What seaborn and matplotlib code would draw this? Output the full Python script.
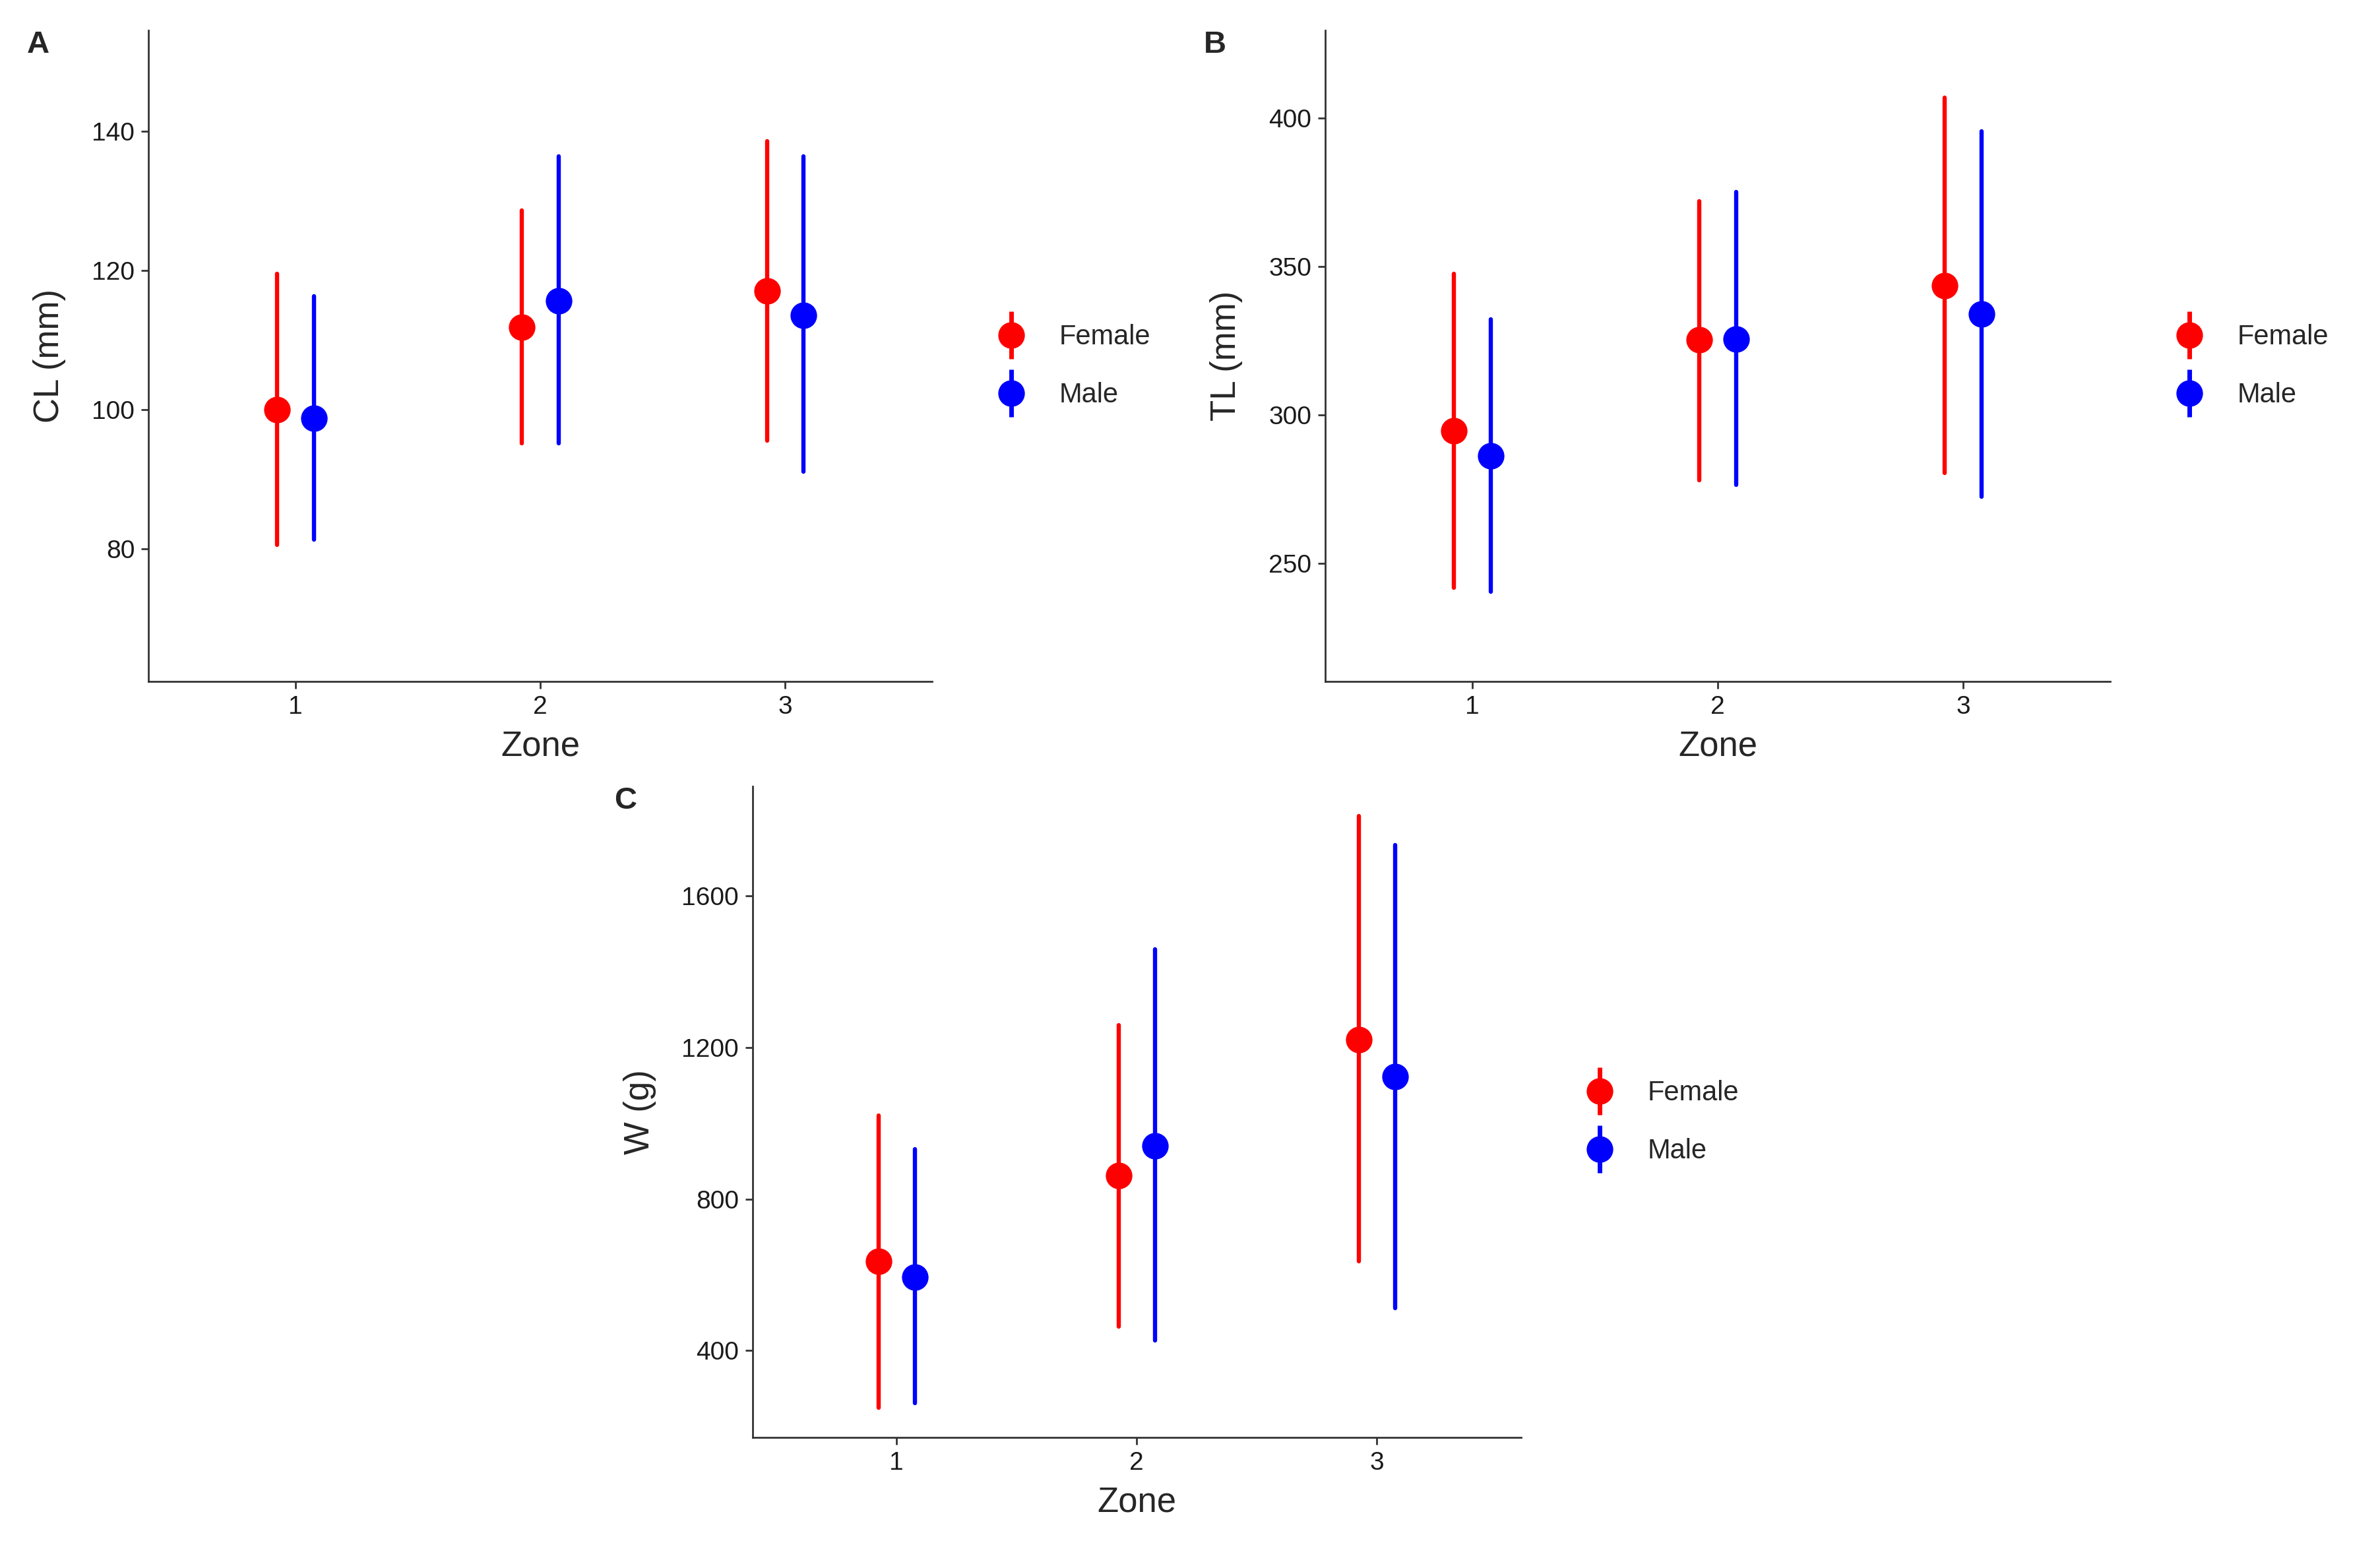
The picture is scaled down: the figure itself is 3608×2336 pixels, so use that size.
import pandas as pd
import seaborn as sns
import matplotlib.pyplot as plt
from matplotlib.lines import Line2D
from matplotlib.legend_handler import HandlerTuple

# values: mean with lower / upper end of the bar
zones = ["1", "2", "3"]
sexes = ["Female", "Male"]

cl_f_mean = [100.0, 111.9, 117.1]
cl_f_lo = [80.6, 95.2, 95.6]
cl_f_hi = [119.5, 128.6, 138.6]
cl_m_mean = [98.8, 115.7, 113.6]
cl_m_lo = [81.4, 95.2, 91.1]
cl_m_hi = [116.3, 136.4, 136.4]

tl_f_mean = [294.7, 325.3, 343.7]
tl_f_lo = [241.8, 278.1, 280.6]
tl_f_hi = [347.6, 372.0, 406.9]
tl_m_mean = [286.2, 325.6, 334.0]
tl_m_lo = [240.5, 276.5, 272.4]
tl_m_hi = [332.2, 375.2, 395.6]

w_f_mean = [634.7, 861.6, 1221.6]
w_f_lo = [248.0, 463.3, 634.7]
w_f_hi = [1019.8, 1259.8, 1811.0]
w_m_mean = [593.9, 940.7, 1122.6]
w_m_lo = [261.5, 426.4, 512.0]
w_m_hi = [931.4, 1458.9, 1734.5]

colors = {"Female": "#FF0000", "Male": "#0000FF"}


def make_frame(f_lo, f_mean, f_hi, m_lo, m_mean, m_hi):
    rows = []
    for sex, lo, mean, hi in [("Female", f_lo, f_mean, f_hi), ("Male", m_lo, m_mean, m_hi)]:
        for i, z in enumerate(zones):
            for v in (lo[i], mean[i], hi[i]):
                rows.append({"Zone": z, "Sex": sex, "value": v})
    return pd.DataFrame(rows)


# letter, y label, data, y ticks, y limits, axes rect, x of panel letter
panels = [
    ("A", "CL (mm)", make_frame(cl_f_lo, cl_f_mean, cl_f_hi, cl_m_lo, cl_m_mean, cl_m_hi),
     [80, 100, 120, 140], (61, 154.5), [0.0624, 0.5578, 0.3293, 0.4225], -0.155),
    ("B", "TL (mm)", make_frame(tl_f_lo, tl_f_mean, tl_f_hi, tl_m_lo, tl_m_mean, tl_m_hi),
     [250, 300, 350, 400], (210.3, 429.6), [0.5568, 0.5578, 0.3299, 0.4225], -0.155),
    ("C", "W (g)", make_frame(w_f_lo, w_f_mean, w_f_hi, w_m_lo, w_m_mean, w_m_hi),
     [400, 800, 1200, 1600], (170, 1890), [0.3162, 0.0672, 0.3229, 0.4225], -0.18),
]

sns.set_theme(style="ticks")
plt.rcParams['font.family'] = ['Liberation Sans', 'DejaVu Sans']

fig = plt.figure(figsize=(18.04, 11.68), dpi=200)

for letter, ylab, df, yticks, ylim, rect, lx in panels:
    ax = fig.add_axes(rect)
    sns.pointplot(data=df, x="Zone", y="value", hue="Sex", order=zones, hue_order=sexes,
                  estimator="median", errorbar=("pi", 100), dodge=0.15,
                  palette=colors, linestyle="none", markers="o",
                  markersize=14.5, markeredgewidth=0, err_kws={"linewidth": 2.3},
                  legend=False, ax=ax)
    ax.set_xlim(-0.6, 2.6)
    ax.set_ylim(*ylim)
    ax.set_yticks(yticks)
    ax.set_xlabel("Zone", fontsize=19, labelpad=6)
    ax.set_ylabel(ylab, fontsize=19, labelpad=14)
    ax.tick_params(labelsize=14, length=4, width=1, color="#333333", labelcolor="#1a1a1a")
    for s in ["left", "bottom"]:
        ax.spines[s].set_linewidth(1)
        ax.spines[s].set_color("#333333")
    sns.despine(ax=ax)

    handles = []
    for sex in sexes:
        bar = Line2D([], [], marker="|", markersize=26, markeredgewidth=2.5,
                     color=colors[sex], linestyle="none")
        dot = Line2D([], [], marker="o", markersize=14.5, markeredgewidth=0,
                     color=colors[sex], linestyle="none")
        handles.append((bar, dot))
    ax.legend(handles, sexes, handler_map={tuple: HandlerTuple(ndivide=1)},
              loc="center left", bbox_to_anchor=(1.043, 0.484), frameon=False,
              fontsize=15, labelspacing=1.15, handletextpad=1.0, handlelength=1.5)

    ax.text(lx, 1.0, letter, transform=ax.transAxes, fontsize=17,
            fontweight="bold", va="top", ha="left")

fig.savefig("out.png", dpi=200)
